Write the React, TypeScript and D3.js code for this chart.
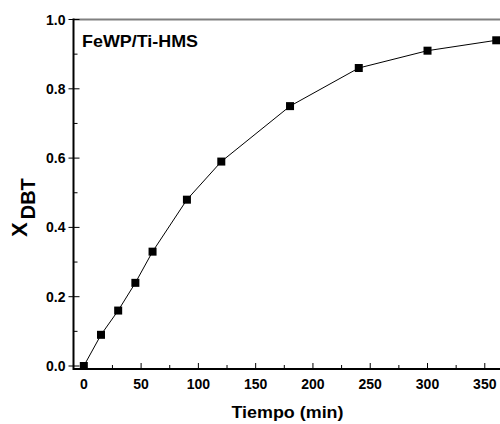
import React, { useEffect, useRef } from 'react';
import * as d3 from 'd3';

const times = [0, 15, 30, 45, 60, 90, 120, 180, 240, 300, 360];
const conversion = [0, 0.09, 0.16, 0.24, 0.33, 0.48, 0.59, 0.75, 0.86, 0.91, 0.94];
const xTicks = [0, 50, 100, 150, 200, 250, 300, 350];
const yTicks = [0, 0.2, 0.4, 0.6, 0.8, 1.0];
const sampleLabel = 'FeWP/Ti-HMS';

const width = 500;
const height = 424;
const font = '"Liberation Sans", Arial, sans-serif';

const App = () => {
  const ref = useRef<SVGSVGElement>(null);

  useEffect(() => {
    const svg = d3.select(ref.current);
    svg.selectAll('*').remove();

    const x = d3.scaleLinear().domain([-9, 372]).range([73.5, 510]);
    const y = d3.scaleLinear().domain([0, 1]).range([366, 19.5]);
    const yBottom = 369;

    // top frame line
    svg.append('line')
      .attr('x1', 73.5).attr('x2', width)
      .attr('y1', y(1)).attr('y2', y(1))
      .attr('stroke', '#808080').attr('stroke-width', 2);

    // x axis, ticks pointing in
    const xAxis = svg.append('g').attr('transform', `translate(0,${yBottom})`);
    xAxis.append('line')
      .attr('x1', 73.5).attr('x2', width)
      .attr('stroke', '#000').attr('stroke-width', 2);
    const xMinor = d3.range(25, 375, 50);
    xAxis.selectAll('line.minor').data(xMinor).enter().append('line')
      .attr('class', 'minor')
      .attr('x1', d => x(d)).attr('x2', d => x(d))
      .attr('y1', 0).attr('y2', -4)
      .attr('stroke', '#000').attr('stroke-width', 1);
    xAxis.selectAll('line.major').data(xTicks).enter().append('line')
      .attr('class', 'major')
      .attr('x1', d => x(d)).attr('x2', d => x(d))
      .attr('y1', 0).attr('y2', -6)
      .attr('stroke', '#000').attr('stroke-width', 1);
    xAxis.selectAll('text').data(xTicks).enter().append('text')
      .attr('x', d => x(d)).attr('y', 20)
      .attr('text-anchor', 'middle')
      .style('font-family', font).style('font-weight', 'bold').style('font-size', '14px')
      .text(d => d3.format('d')(d));

    svg.append('text')
      .attr('x', 287.5).attr('y', 417.5)
      .attr('text-anchor', 'middle')
      .attr('textLength', 112).attr('lengthAdjust', 'spacingAndGlyphs')
      .style('font-family', font).style('font-weight', 'bold').style('font-size', '16px')
      .text('Tiempo (min)');

    // y axis, ticks pointing in
    const yAxis = svg.append('g').attr('transform', 'translate(73.5,0)');
    yAxis.append('line')
      .attr('y1', y(1) - 1).attr('y2', yBottom + 1)
      .attr('stroke', '#000').attr('stroke-width', 2);
    const yMinor = d3.range(0.1, 1, 0.2);
    yAxis.selectAll('line.minor').data(yMinor).enter().append('line')
      .attr('class', 'minor')
      .attr('y1', d => y(d)).attr('y2', d => y(d))
      .attr('x1', 0).attr('x2', 4)
      .attr('stroke', '#000').attr('stroke-width', 1);
    yAxis.selectAll('line.major').data(yTicks).enter().append('line')
      .attr('class', 'major')
      .attr('y1', d => y(d)).attr('y2', d => y(d))
      .attr('x1', -5).attr('x2', 6)
      .attr('stroke', '#000').attr('stroke-width', 1);
    yAxis.selectAll('text').data(yTicks).enter().append('text')
      .attr('x', -8).attr('y', d => y(d)).attr('dy', '0.36em')
      .attr('text-anchor', 'end')
      .style('font-family', font).style('font-weight', 'bold').style('font-size', '14px')
      .text(d => d3.format('.1f')(d));

    const yTitle = svg.append('text')
      .attr('transform', 'translate(27,237) rotate(-90)')
      .attr('text-anchor', 'start')
      .style('font-family', font).style('font-weight', 'bold').style('font-size', '22px');
    yTitle.append('tspan').text('X');
    yTitle.append('tspan').attr('dx', 3).attr('dy', 8).style('font-size', '20px').text('DBT');

    // conversion curve with square markers
    const pts = times.map((t, i) => [t, conversion[i]] as [number, number]);
    svg.append('path')
      .datum(pts)
      .attr('fill', 'none').attr('stroke', '#000').attr('stroke-width', 1)
      .attr('d', d3.line<[number, number]>().x(d => x(d[0])).y(d => y(d[1])));
    svg.selectAll('rect.pt').data(pts).enter().append('rect')
      .attr('class', 'pt')
      .attr('x', d => x(d[0]) - 4).attr('y', d => y(d[1]) - 4)
      .attr('width', 8).attr('height', 8)
      .attr('fill', '#000');

    svg.append('text')
      .attr('x', 82).attr('y', 47)
      .attr('textLength', 116).attr('lengthAdjust', 'spacingAndGlyphs')
      .style('font-family', font).style('font-weight', 'bold').style('font-size', '17px')
      .text(sampleLabel);
  }, []);

  return (
    <svg ref={ref} width={width} height={height}
      style={{ position: 'absolute', left: 0, top: 0, background: '#fff' }} />
  );
};

export default App;
